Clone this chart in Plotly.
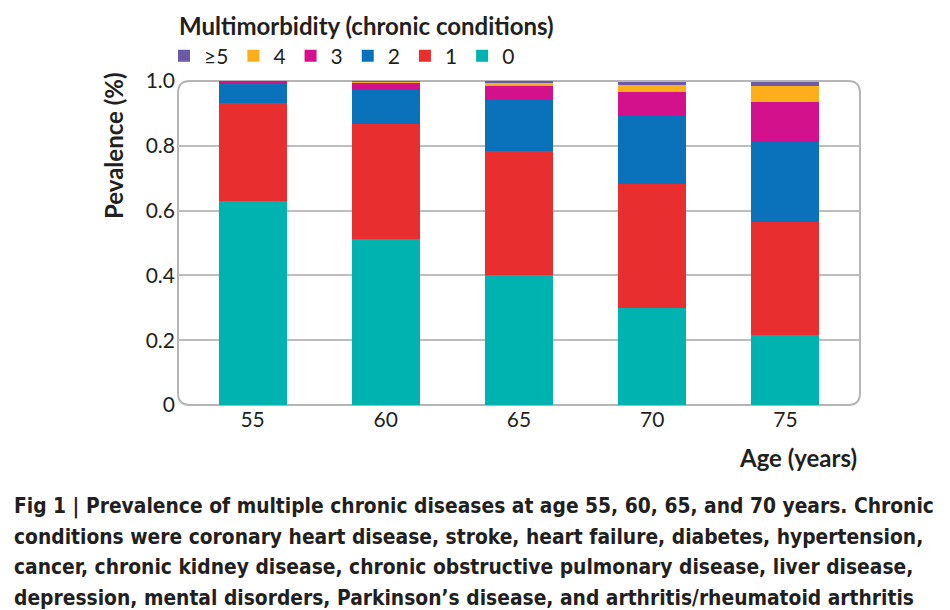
import plotly.graph_objects as go

ages = ["55", "60", "65", "70", "75"]
series_names = ["0", "1", "2", "3", "4", "≥5"]
v0 = [0.630, 0.512, 0.401, 0.300, 0.216]
v1 = [0.303, 0.356, 0.383, 0.383, 0.350]
v2 = [0.061, 0.105, 0.158, 0.210, 0.247]
v3 = [0.006, 0.021, 0.043, 0.074, 0.123]
v4 = [0.000, 0.004, 0.009, 0.021, 0.049]
v5 = [0.000, 0.002, 0.004, 0.009, 0.012]
values = [v0, v1, v2, v3, v4, v5]
colors = ["#00B2B0", "#E82E2E", "#0A72BA", "#D4118D", "#FDAE1B", "#6B5BA7"]

y_ticks = [0, 0.2, 0.4, 0.6, 0.8, 1.0]
y_ticktext = ["0", "0.2", "0.4", "0.6", "0.8", "1.0"]

caption_lines = [
    "Fig 1 | Prevalence of multiple chronic diseases at age 55, 60, 65, and 70 years. Chronic",
    "conditions were coronary heart disease, stroke, heart failure, diabetes, hypertension,",
    "cancer, chronic kidney disease, chronic obstructive pulmonary disease, liver disease,",
    "depression, mental disorders, Parkinson’s disease, and arthritis/rheumatoid arthritis",
]

TXT = "#231F20"
FONT = "Lato, 'Open Sans', sans-serif"
CAP_FONT = "'DejaVu Sans Condensed', 'DejaVu Sans', sans-serif"

fig = go.Figure()
for name, vals, col in zip(series_names, values, colors):
    fig.add_trace(go.Bar(x=ages, y=vals, name=name, marker=dict(color=col, line=dict(width=0)),
                         width=0.51))

W, H = 950, 610
OFF = 8  # page body margin
# plot area in page pixels: x 178..860, y 81..405
L = 178 - OFF
T = 81 - OFF
R = W - (860 - OFF)
B = H - (405 - OFF)
pw, ph = W - L - R, H - T - B


def px_x(pix):
    return (pix - OFF - L) / pw


def py(pix):
    return (H - B - (pix - OFF)) / ph


fig.update_layout(
    width=W, height=H, barmode="stack",
    margin=dict(l=L, r=R, t=T, b=B, autoexpand=False),
    paper_bgcolor="white", plot_bgcolor="white",
    font=dict(family=FONT, size=21, color=TXT),
    showlegend=True,
    legend=dict(
        orientation="h", traceorder="reversed",
        x=px_x(164), xanchor="left", y=py(56), yanchor="middle",
        font=dict(family=FONT, size=21, color=TXT),
        itemwidth=30, tracegroupgap=0, itemclick=False,
        bgcolor="rgba(0,0,0,0)",
    ),
    xaxis=dict(type="category", range=[-0.56, 4.56], showgrid=False, zeroline=False,
               showline=False, ticks="", tickfont=dict(size=21, color=TXT), ticklabelstandoff=0),
    yaxis=dict(range=[0, 1.0], tickvals=y_ticks, ticktext=y_ticktext, showgrid=True,
               gridcolor="#BDBDBD", gridwidth=2, zeroline=False, showline=False, ticks="",
               tickfont=dict(size=21, color=TXT), ticklabelstandoff=2),
)

# rounded frame
rx, ry = 12 / pw, 12 / ph
path = (f"M {rx},0 L {1-rx},0 Q 1,0 1,{ry} L 1,{1-ry} Q 1,1 {1-rx},1 "
        f"L {rx},1 Q 0,1 0,{1-ry} L 0,{ry} Q 0,0 {rx},0 Z")
fig.add_shape(type="path", path=path, xref="paper", yref="paper",
              line=dict(color="#B5B5B5", width=2), layer="below")

fig.add_annotation(text="<b>Multimorbidity (chronic conditions)</b>", xref="paper", yref="paper",
                   x=px_x(177), y=py(26), showarrow=False, xanchor="left", yanchor="middle",
                   font=dict(family=FONT, size=24, color=TXT))
fig.add_annotation(text="<b>Pevalence (%)</b>", xref="paper", yref="paper",
                   x=px_x(113), y=py(146), textangle=-90, showarrow=False,
                   xanchor="center", yanchor="middle", font=dict(family=FONT, size=24, color=TXT))
fig.add_annotation(text="<b>Age (years)</b>", xref="paper", yref="paper",
                   x=px_x(859), y=py(457), showarrow=False,
                   xanchor="right", yanchor="middle", font=dict(family=FONT, size=24, color=TXT))

for i, line in enumerate(caption_lines):
    fig.add_annotation(text="<b>" + line + "</b>", xref="paper", yref="paper",
                       x=px_x(12), y=py(506 + 30.5 * i), showarrow=False,
                       xanchor="left", yanchor="middle",
                       font=dict(family=CAP_FONT, size=20.8, color=TXT))

fig.write_html("out.html")
